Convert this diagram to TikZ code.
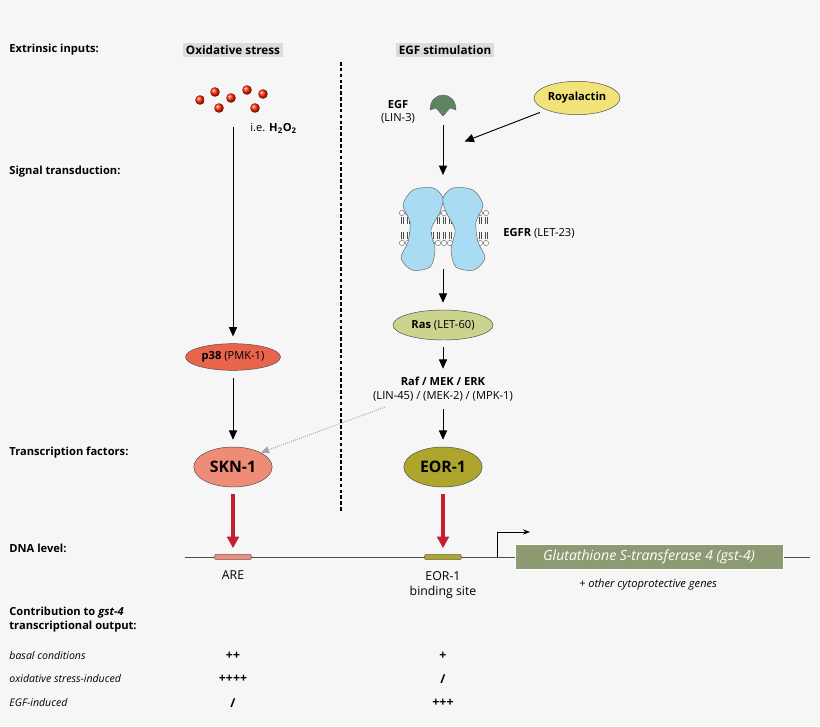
\documentclass[tikz,border=0pt]{standalone}
\usepackage{fontspec}
\setmainfont{Open Sans}
\usetikzlibrary{positioning,arrows.meta,shapes.geometric}
\definecolor{bg}{HTML}{F6F6F6}
\definecolor{hdr}{HTML}{DCDCDC}
\definecolor{sknc}{HTML}{EF8C78}
\definecolor{p38c}{HTML}{E8654C}
\definecolor{eorc}{HTML}{ADA52C}
\definecolor{rasc}{HTML}{CBD38C}
\definecolor{royc}{HTML}{F2E27A}
\definecolor{genec}{HTML}{8E9A72}
\definecolor{redarr}{HTML}{C41E30}
\definecolor{egfc}{HTML}{5E8460}
\definecolor{rcpc}{HTML}{A9DCF2}
\tikzset{
  lab/.style={font=\fontsize{9.5}{11.5}\selectfont, inner sep=1pt},
  row/.style={lab, anchor=west, font=\fontsize{9.5}{11.5}\selectfont\bfseries},
  hd/.style={font=\fontsize{10}{12}\selectfont\bfseries, fill=hdr, inner sep=2.5pt},
  prot/.style={ellipse, draw=black!70, font=\fontsize{9.5}{11}\selectfont, inner sep=1pt},
  tf/.style={ellipse, draw=black!70, font=\fontsize{13.5}{15}\selectfont\bfseries, minimum width=2.35cm, minimum height=1.2cm},
  sig/.style={-{Triangle[length=8pt,width=7pt]}, thick, shorten <=6pt, shorten >=6pt},
  act/.style={-{Triangle[length=10pt,width=10pt]}, line width=2.6pt, redarr, shorten <=6pt, shorten >=5pt},
  site/.style={draw=black!60, rounded corners=1pt, minimum width=1.1cm, minimum height=0.16cm, inner sep=0pt},
  pm/.style={lab, font=\fontsize{10.5}{12}\selectfont\bfseries}
}
\begin{document}
\begin{tikzpicture}[x=0.03cm,y=-0.03cm]
	\fill[bg] (0,0) rectangle (820,726);
	\useasboundingbox (0,0) rectangle (820,726);

	% row labels
	\node[row] (rext) at (8,50) {Extrinsic inputs:};
	\node[row] (rsig) at (8,172) {Signal transduction:};
	\node[row] (rtf) at (8,453) {Transcription factors:};
	\node[row] (rdna) at (8,548) {DNA level:};
	\node[row] (rcon) at (8,620) {\begin{tabular}{@{}l@{}}Contribution to \textit{gst-4}\\transcriptional output:\end{tabular}};
	\node[row, font=\fontsize{9}{10}\selectfont\itshape] (rbas) at (8,656) {basal conditions};
	\node[row, font=\fontsize{9}{10}\selectfont\itshape] (rox) at (8,679) {oxidative stress-induced};
	\node[row, font=\fontsize{9}{10}\selectfont\itshape] (regf) at (8,703) {EGF-induced};
	\node[hd] (hox) at (233,50) {Oxidative stress};
	\node[hd] (hegf) at (445,50) {EGF stimulation};

	\draw[very thick, dash pattern=on 3pt off 2pt] (341,62) -- (341,513);

	% oxidative stress branch
	\foreach \px/\py in {200/100,215/92,231/98,247/90,263/94,219/108,255/108}
		\shade[ball color=red!70!orange] (\px,\py) circle (4.8);
	\node[lab, anchor=west] (h2o) at (249,128) {i.e. \textbf{H\textsubscript{2}O\textsubscript{2}}};
	\coordinate (oxtop) at (233,120);
	\node[prot, fill=p38c, minimum width=2.85cm, minimum height=0.8cm] (p38) at (233,357) {\textbf{p38} (PMK-1)};
	\node[tf, fill=sknc] (skn) at (233,467) {SKN-1};
	\draw[sig] (oxtop) -- (p38);
	\draw[sig] (p38) -- (skn);

	% EGF branch
	\draw[fill=egfc, draw=black!60] (430,110) .. controls (430,90) and (456,90) .. (456,110) -- (450,108) -- (443,116) -- (436,108) -- cycle;
	\node[lab, align=center] (egf) at (398,112) {\textbf{EGF}\\(LIN-3)};
	\coordinate (egfb) at (443,118);
	\coordinate (rcpt) at (443,182);
	\node[prot, fill=royc, minimum width=2.4cm, minimum height=1cm, font=\fontsize{9.5}{11}\selectfont\bfseries] (roy) at (577,98) {Royalactin};
	\coordinate (royend) at (458,144);
	\draw[sig] (roy.south west) -- (royend);
	\draw[sig] (egfb) -- (rcpt);

	% receptor in membrane
	\foreach \mx in {402,408,...,486} {
		\draw[black!70, line width=0.3pt] (\mx-1,217) -- (\mx-1,224) (\mx+1,217) -- (\mx+1,224)
			(\mx-1,232) -- (\mx-1,239) (\mx+1,232) -- (\mx+1,239);
		\draw[black!70, fill=white, line width=0.3pt] (\mx,213) circle (2.6) (\mx,243) circle (2.6);
	}
	\foreach \sx in {1,-1}
		\draw[black!60, fill=rcpc, xshift=443*0.03cm, xscale=\sx]
			plot[smooth cycle] coordinates {(0,198) (-10,188) (-30,190) (-40,205) (-33,222) (-35,242) (-42,258) (-31,270) (-13,267) (-8,250) (-12,230) (-3,212)};
	\node[lab, anchor=west] (egfr) at (502,233) {\textbf{EGFR} (LET-23)};
	\coordinate (rcpb) at (443,262);

	\node[prot, fill=rasc, minimum width=3cm, minimum height=0.9cm] (ras) at (443,325) {\textbf{Ras} (LET-60)};
	\draw[sig] (rcpb) -- (ras);
	\node[lab, align=center] (mapk) at (443,389) {\textbf{Raf / MEK / ERK}\\(LIN-45) / (MEK-2) / (MPK-1)};
	\draw[sig] (ras) -- (mapk);
	\node[tf, fill=eorc] (eor) at (443,467) {EOR-1};
	\draw[sig] (mapk) -- (eor);
	\coordinate (dotst) at (385,407);
	\draw[-{Triangle[length=7pt,width=6pt]}, black!35, densely dotted, thick] (dotst) -- (skn.north east);

	% DNA level
	\coordinate (dnal) at (185,557);
	\coordinate (dnar) at (810,557);
	\draw[black!70] (dnal) -- (dnar);
	\node[site, fill=sknc] (are) at (233,557) {};
	\node[site, fill=eorc] (eors) at (443,557) {};
	\draw[act] (skn) -- (are);
	\draw[act] (eor) -- (eors);
	\node[lab, font=\fontsize{10.5}{12}\selectfont] (arel) at (233,575) {ARE};
	\node[lab, font=\fontsize{10.5}{12.5}\selectfont, align=center] (eorl) at (443,585) {EOR-1\\binding site};
	\coordinate (tss) at (497,557);
	\draw[-{Stealth[length=6pt]}, thick] (tss) -- (497,532) -- (530,532);
	\node[fill=genec, draw=white, minimum width=8.05cm, minimum height=0.75cm, text=white, font=\fontsize{12}{14}\selectfont\itshape] (gst) at (649,557) {Glutathione S-transferase 4 (gst-4)};
	\node[lab, font=\fontsize{9.5}{11}\selectfont\itshape] (other) at (648,585) {+ other cytoprotective genes};

	% contribution values
	\node[pm] (sb) at (233,656) {++};
	\node[pm] (so) at (233,679) {++++};
	\node[pm] (se) at (233,703) {/};
	\node[pm] (eb) at (443,656) {+};
	\node[pm] (eo) at (443,679) {/};
	\node[pm] (ee) at (443,703) {+++};
\end{tikzpicture}
\end{document}
